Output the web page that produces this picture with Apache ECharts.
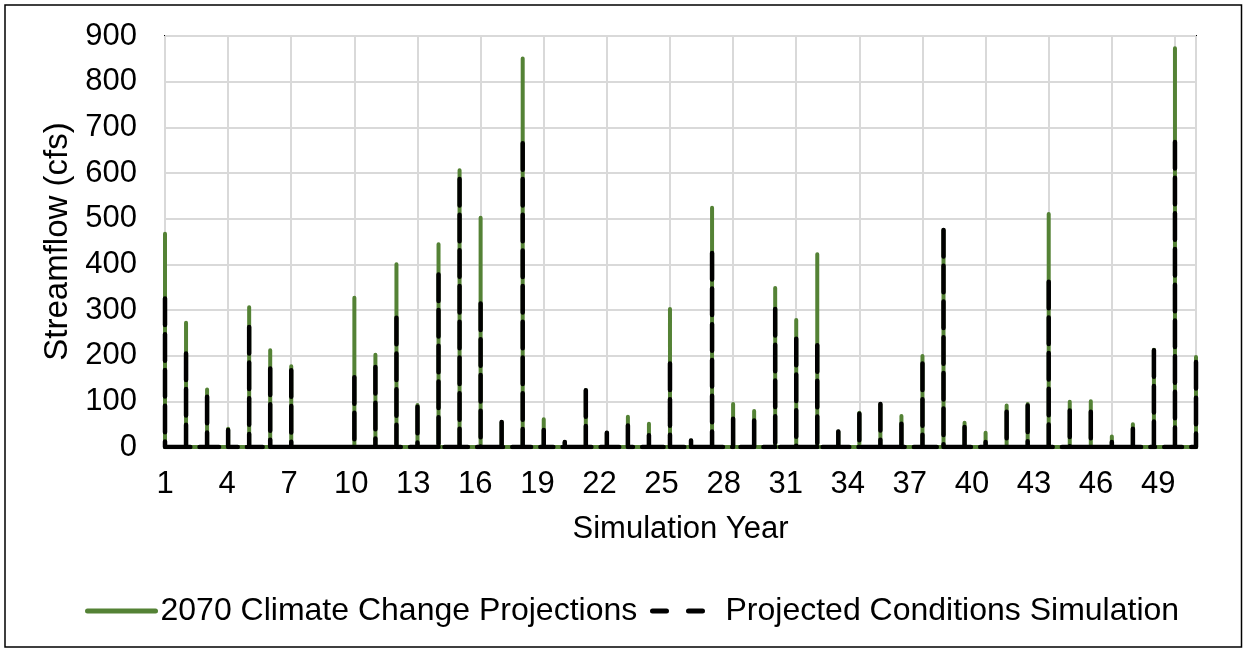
<!DOCTYPE html>
<html>
<head>
<meta charset="utf-8">
<script src="https://cdn.jsdelivr.net/npm/echarts@6/dist/echarts.min.js"></script>
<style>
  html, body { margin: 0; padding: 0; background: #fff; }
  #chart { width: 1243px; height: 648px; }
</style>
</head>
<body>
<div id="chart"></div>
<script>
// Simulation years (one runoff peak per year)
const years = [1,2,3,4,5,6,7,8,9,10,11,12,13,14,15,16,17,18,19,20,21,22,23,24,25,
               26,27,28,29,30,31,32,33,34,35,36,37,38,39,40,41,42,43,44,45,46,47,48,49,50];
// Peak streamflow per year (cfs), 2070 Climate Change Projections
const climatePeaks = [467,272,126,40,306,212,177,0,0,327,202,400,92,444,606,502,55,851,61,11,
                      124,31,66,51,302,14,524,94,79,348,278,422,34,75,94,68,199,475,53,31,
                      91,94,510,99,100,23,50,213,873,197];
// Peak streamflow per year (cfs), Projected Conditions Simulation
const projectedPeaks = [325,205,110,37,263,172,168,0,0,153,175,283,88,378,587,314,55,665,37,11,
                        124,31,47,26,183,14,425,62,58,302,237,223,34,73,94,51,183,475,44,11,
                        77,91,362,80,77,11,40,212,668,186];
const yTicks = [0,100,200,300,400,500,600,700,800,900];
const seriesNames = ['2070 Climate Change Projections', 'Projected Conditions Simulation'];

// Build spike polylines: each year's peak drops to zero then runs along the baseline to the next year.
function spikes(peaks) {
  const d = [];
  years.forEach((y, i) => {
    const u = y - 1;
    d.push([u, peaks[i]]);
    d.push([u, 0]);
    if (i < years.length - 1) d.push([years[i + 1] - 1, 0]);
    d.push([u, '-']);
  });
  return d;
}

const FONT = '"Liberation Sans", Arial, sans-serif';
const chart = echarts.init(document.getElementById('chart'), null, { renderer: 'canvas' });
chart.setOption({
  animation: false,
  backgroundColor: '#fff',
  textStyle: { fontFamily: FONT, color: '#000' },
  graphic: [{
    type: 'rect', silent: true, z: 100,
    shape: { x: 5, y: 5, width: 1236.5, height: 642 },
    style: { fill: 'none', stroke: '#000', lineWidth: 1.5 }
  }],
  grid: { left: 165, top: 36, right: 47, bottom: 201, show: true, borderColor: '#000', borderWidth: 2, backgroundColor: 'transparent' },
  legend: [{
    left: 80, top: 590, itemWidth: 68, itemHeight: 14,
    textStyle: { fontFamily: FONT, fontSize: 32, color: '#000' },
    data: [{ name: seriesNames[0],
             itemStyle: { opacity: 0 },
             lineStyle: { color: '#548235', width: 5, type: 'solid', cap: 'round' } }]
  }, {
    left: 645, top: 590, itemWidth: 50, itemHeight: 14,
    textStyle: { fontFamily: FONT, fontSize: 32, color: '#000', padding: [0, 0, 0, 18] },
    data: [{ name: seriesNames[1],
             itemStyle: { opacity: 0 },
             lineStyle: { color: '#000', width: 5, type: [14, 22], cap: 'round' } }]
  }],
  xAxis: [{
    type: 'value', position: 'bottom', min: 0, max: 49, interval: 3,
    axisLine: { show: false }, axisTick: { show: false }, axisLabel: { show: false },
    splitLine: { show: true, lineStyle: { color: '#d9d9d9', width: 2 } }
  }, {
    type: 'value', position: 'bottom', offset: 0, min: 0, max: 49.83, interval: 3,
    axisLine: { show: false }, axisTick: { show: false }, splitLine: { show: false },
    axisLabel: { show: true, fontSize: 31, color: '#000', fontFamily: FONT, margin: 22,
                 showMaxLabel: false, formatter: v => String(Math.round(v) + 1) },
    name: 'Simulation Year', nameLocation: 'middle', nameGap: 67,
    nameTextStyle: { fontSize: 31, color: '#000', fontFamily: FONT }
  }],
  yAxis: {
    type: 'value', min: yTicks[0], max: yTicks[yTicks.length - 1], interval: 100,
    axisLine: { show: false }, axisTick: { show: false },
    axisLabel: { fontSize: 31, color: '#000', fontFamily: FONT, margin: 28 },
    splitLine: { show: true, lineStyle: { color: '#d9d9d9', width: 2 } },
    name: 'Streamflow (cfs)', nameLocation: 'middle', nameGap: 76, nameRotate: 90,
    nameTextStyle: { fontSize: 33, color: '#000', fontFamily: FONT }
  },
  series: [{
    name: seriesNames[0], type: 'line', xAxisIndex: 0, symbol: 'none', z: 2,
    connectNulls: false, silent: true,
    lineStyle: { color: '#548235', width: 4, cap: 'round', join: 'round' },
    itemStyle: { color: '#548235' },
    data: spikes(climatePeaks)
  }, {
    name: seriesNames[1], type: 'line', xAxisIndex: 0, symbol: 'none', z: 3,
    connectNulls: false, silent: true,
    lineStyle: { color: '#000', width: 4.5, type: [26.5, 9.2], cap: 'round', join: 'round' },
    itemStyle: { color: '#000' },
    data: spikes(projectedPeaks)
  }]
});
</script>
</body>
</html>
